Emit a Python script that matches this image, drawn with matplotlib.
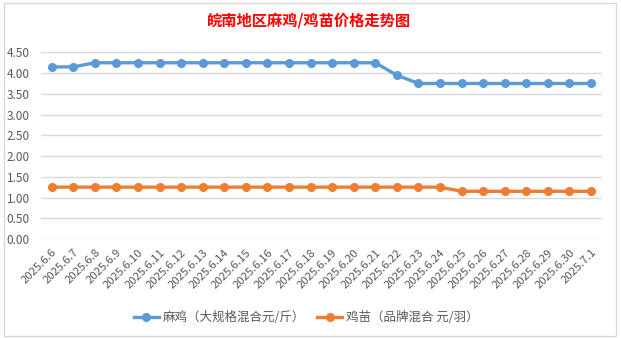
import matplotlib
matplotlib.use("Agg")
import matplotlib.pyplot as plt
from matplotlib.patches import Rectangle

plt.rcParams['font.family'] = ['Noto Sans CJK SC', 'DejaVu Sans']

# Daily prices, 2025.6.6 - 2025.7.1
dates = [f"2025.6.{d}" for d in range(6, 31)] + ["2025.7.1"]
mj_price = [4.15, 4.15] + [4.25] * 14 + [3.95] + [3.75] * 9       # 麻鸡 元/斤
jm_price = [1.25] * 19 + [1.15] * 7                                 # 鸡苗 元/羽
yticks = [0.0, 0.5, 1.0, 1.5, 2.0, 2.5, 3.0, 3.5, 4.0, 4.5]

fig = plt.figure(figsize=(6.21, 3.38), dpi=100)
ax = fig.add_axes([0.066, 0.293, 0.903, 0.552])

x = list(range(len(dates)))
ax.plot(x, mj_price, color="#5B9BD5", linewidth=2.4, marker="o", markersize=5.5,
        label="麻鸡（大规格混合元/斤）", zorder=3)
ax.plot(x, jm_price, color="#ED7D31", linewidth=2.4, marker="o", markersize=5.5,
        label="鸡苗（品牌混合 元/羽）", zorder=3)

ax.set_xlim(-0.5, len(dates) - 0.5)
ax.set_ylim(0, 4.5)
ax.set_yticks(yticks)
ax.set_yticklabels([f"{v:.2f}" for v in yticks])
ax.set_xticks(x)
ax.set_xticklabels(dates, rotation=45, ha="right", rotation_mode="anchor")
ax.tick_params(axis="y", length=0, pad=8, labelsize=8.5, labelcolor="#595959")
ax.tick_params(axis="x", length=0, pad=6, labelsize=8.2, labelcolor="#595959")
ax.grid(axis="y", color="#D9D9D9", linewidth=1)
ax.set_axisbelow(True)
for s in ax.spines.values():
    s.set_visible(False)

fig.text(0.497, 0.94, "皖南地区麻鸡/鸡苗价格走势图", color="#FF0000", fontsize=11,
         fontweight="bold", ha="center", va="center")

fig.legend(loc="center", bbox_to_anchor=(0.493, 0.06), ncol=2, frameon=False,
           fontsize=9, labelcolor="#595959", handlelength=2.0, columnspacing=1.0,
           handletextpad=0.3)

# chart frame
fig.patches.append(Rectangle((0.006, 0.006), 0.986, 0.985, transform=fig.transFigure,
                             fill=False, edgecolor="#D9D9D9", linewidth=1))

fig.savefig("out.png", dpi=100)
